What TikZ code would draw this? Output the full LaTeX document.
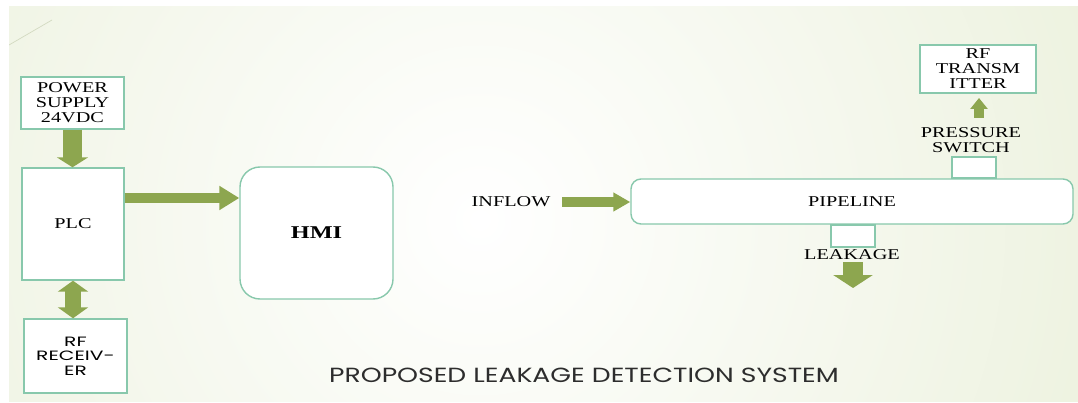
\documentclass[tikz,border=0pt]{standalone}
\usepackage{fontspec}
\setmainfont{Liberation Serif}
\newfontfamily\boxserif[FakeStretch=1.35]{Liberation Serif}
\newfontfamily\gothic[FakeStretch=1.3]{Poppins}
\newfontfamily\gothicwide[FakeStretch=1.5]{Poppins}
\usetikzlibrary{arrows.meta}

\definecolor{bggreen}{RGB}{226,234,204}
\definecolor{edgeteal}{RGB}{136,200,172}
\definecolor{arrowgreen}{RGB}{141,166,79}
\definecolor{titlegrey}{RGB}{45,45,45}

\tikzset{
  blk/.style={draw=edgeteal, line width=1.4pt, fill=white, inner sep=0pt,
    align=center, font=\boxserif\fontsize{15}{15}\selectfont},
  lbl/.style={inner sep=0pt, align=center, font=\boxserif\fontsize{15}{15}\selectfont},
  fat/.style n args={3}{draw=arrowgreen, line width=#1,
    -{Triangle[width=#2,length=#3]}},
  fatboth/.style n args={3}{draw=arrowgreen, line width=#1,
    {Triangle[width=#2,length=#3]}-{Triangle[width=#2,length=#3]}},
}

\begin{document}
\begin{tikzpicture}[x=1pt,y=-1pt]
\useasboundingbox (0,0) rectangle (1078,403);

% slide background
\fill[white] (0,0) rectangle (1078,403);
\begin{scope}
  \clip (9,7) rectangle (1078,401);
  \shade[inner color=white, outer color=bggreen] (480,220) circle (1050);
  \draw[bggreen!85!gray, line width=0.7pt] (9,45) -- (52,20);
\end{scope}

% left-hand control side
\node[blk, minimum width=103, minimum height=52] (ps) at (72.5,103)
  {POWER\\SUPPLY\\24VDC};
\node[blk, minimum width=102, minimum height=112] (plc) at (73,224) {PLC};
\node[blk, minimum width=103, minimum height=74,
  font=\gothicwide\fontsize{13.5}{14.5}\selectfont] (rx) at (75.5,356)
  {RF\\RECEIV-\\ER};
\node[blk, rounded corners=20pt, minimum width=153, minimum height=132,
  font=\boxserif\bfseries\fontsize{18}{18}\selectfont] (hmi) at (316.5,233) {HMI};

\draw[fat={19pt}{31pt}{10pt}] (ps.south) -- (ps.south |- plc.north);
\draw[fat={10pt}{23pt}{20pt}] (plc.east |- 0,198) -- (hmi.west |- 0,198);
\draw[fatboth={16pt}{30pt}{11pt}] (plc.south) -- (plc.south |- rx.north);

% pipeline side
\node[lbl] (inflow) at (511,202) {INFLOW};
\node[blk, rounded corners=10pt, minimum width=442, minimum height=45]
  (pipe) at (852,201.5) {PIPELINE};
\node[blk, minimum width=44, minimum height=21] (sw) at (974,167.5) {};
\node[lbl] (swlbl) at (971,140.5) {PRESSURE\\SWITCH};
\node[blk, minimum width=116, minimum height=48] (tx) at (978,69)
  {RF\\TRANSM\\ITTER};
\node[blk, minimum width=44, minimum height=22] (leak) at (853,236) {};
\node[lbl] (leaklbl) at (852,255) {LEAKAGE};

\coordinate (inflowtail) at (562,202);
\draw[fat={10pt}{18pt}{17pt}] (inflowtail) -- (pipe.west |- inflowtail);

\coordinate (uptail) at (979,118);
\coordinate (uptip) at (979,98);
\draw[fat={10pt}{17pt}{11pt}] (uptail) -- (uptip);

\coordinate (downtail) at (853,262);
\coordinate (downtip) at (853,288);
\draw[fat={20pt}{39pt}{13pt}] (downtail) -- (downtip);

% caption
\node[text=titlegrey, inner sep=0pt, font=\gothic\fontsize{20.5}{20.5}\selectfont]
  (title) at (584,375) {PROPOSED LEAKAGE DETECTION SYSTEM};
\end{tikzpicture}
\end{document}
